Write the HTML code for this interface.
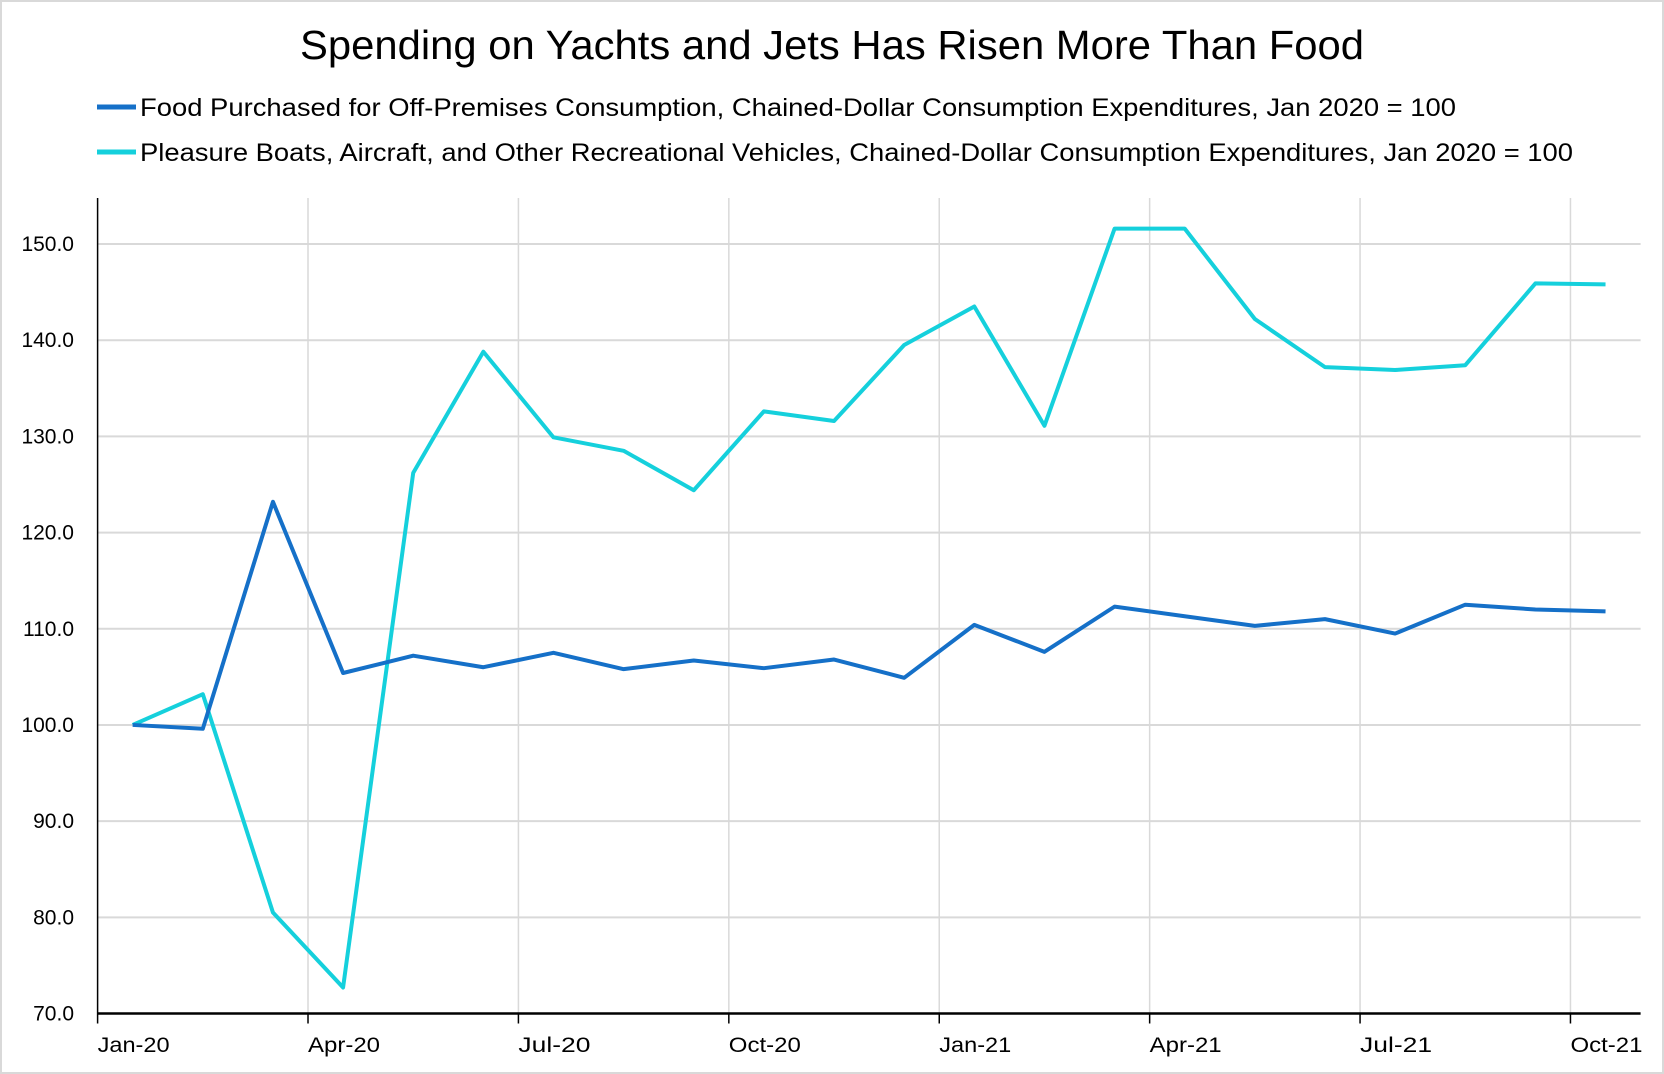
<!DOCTYPE html>
<html><head><meta charset="utf-8"><style>
html,body{margin:0;padding:0;background:#fff;}
svg{display:block;font-family:"Liberation Sans",sans-serif;}
</style></head><body>
<svg id="chart" width="1664" height="1074" viewBox="0 0 1664 1074">
<rect x="1" y="1" width="1662" height="1072" fill="#fff" stroke="#d9d9d9" stroke-width="2"/>
<text x="832" y="59" text-anchor="middle" font-size="41" textLength="1064" lengthAdjust="spacingAndGlyphs" fill="#000">Spending on Yachts and Jets Has Risen More Than Food</text>
<g>
<line x1="97" y1="107" x2="136" y2="107" stroke="#1570c8" stroke-width="5"/>
<text x="140" y="116" font-size="25" textLength="1316" lengthAdjust="spacingAndGlyphs">Food Purchased for Off-Premises Consumption, Chained-Dollar Consumption Expenditures, Jan 2020 = 100</text>
<line x1="97" y1="152" x2="136" y2="152" stroke="#15d0dc" stroke-width="5"/>
<text x="140" y="161" font-size="25" textLength="1433" lengthAdjust="spacingAndGlyphs">Pleasure Boats, Aircraft, and Other Recreational Vehicles, Chained-Dollar Consumption Expenditures, Jan 2020 = 100</text>
</g>
<g id="grid"></g><g id="axes"></g><g id="series"></g>
</svg>
<script>
const months = ["Jan-20","Feb-20","Mar-20","Apr-20","May-20","Jun-20","Jul-20","Aug-20","Sep-20","Oct-20","Nov-20","Dec-20","Jan-21","Feb-21","Mar-21","Apr-21","May-21","Jun-21","Jul-21","Aug-21","Sep-21","Oct-21"];
const foodValues = [100,99.6,123.2,105.4,107.2,106.0,107.5,105.8,106.7,105.9,106.8,104.9,110.4,107.6,112.3,111.3,110.3,111.0,109.5,112.5,112.0,111.8];
const boatValues = [100,103.2,80.5,72.7,126.2,138.8,129.9,128.5,124.4,132.6,131.6,139.5,143.5,131.1,151.6,151.6,142.2,137.2,136.9,137.4,145.9,145.8];
const yTicks = [70,80,90,100,110,120,130,140,150];
const xTickLabels = ["Jan-20","Apr-20","Jul-20","Oct-20","Jan-21","Apr-21","Jul-21","Oct-21"];

const NS="http://www.w3.org/2000/svg";
const L=97.6, R=1640.6, T=198, B=1013.5, yMin=70, yMax=150, y150=244;
const step=(R-L)/months.length;
function xPos(i){return L+step*(i+0.5);}
function xEdge(i){return L+step*i;}
function yPos(v){return B-(v-yMin)*(B-y150)/(yMax-yMin);}
function mk(tag,attrs,parent){const e=document.createElementNS(NS,tag);for(const k in attrs)e.setAttribute(k,attrs[k]);parent.appendChild(e);return e;}
const grid=document.getElementById('grid'),axes=document.getElementById('axes'),series=document.getElementById('series');

yTicks.forEach(v=>{
  if(v>yMin){const g=mk('line',{x1:L,x2:R,y1:yPos(v),y2:yPos(v),stroke:'#d9d9d9','stroke-width':2},grid);
  
  }
  const t=mk('text',{x:74,y:yPos(v)+7,'text-anchor':'end','font-size':21},axes);
  t.textContent=v.toFixed(1);
  
  
});
xTickLabels.forEach((lab,k)=>{
  const x=xEdge(k*3);
  if(k>0){const g=mk('line',{x1:x,x2:x,y1:T,y2:B,stroke:'#d9d9d9','stroke-width':1.5},grid);
  
  }
  const tk=mk('line',{x1:x,x2:x,y1:B,y2:B+10,stroke:'#000','stroke-width':1.5},axes);
  
  
  const t=mk('text',{x:x,y:1052,'text-anchor':'start','font-size':21,textLength:72,lengthAdjust:'spacingAndGlyphs'},axes);
  t.textContent=lab;
  
  
});
const ya=mk('line',{x1:L,x2:L,y1:T,y2:B,stroke:'#000','stroke-width':1.5},axes);


const xa=mk('line',{x1:L,x2:R,y1:B,y2:B,stroke:'#000','stroke-width':2.5},axes);



function line(vals,color,name){
  const p=mk('polyline',{points:vals.map((v,i)=>xPos(i)+','+yPos(v)).join(' '),fill:'none',stroke:color,'stroke-width':4,'stroke-linejoin':'round'},series);
  
  
}
line(boatValues,'#15d0dc','boats-line');
line(foodValues,'#1570c8','food-line');
</script>
</body></html>
